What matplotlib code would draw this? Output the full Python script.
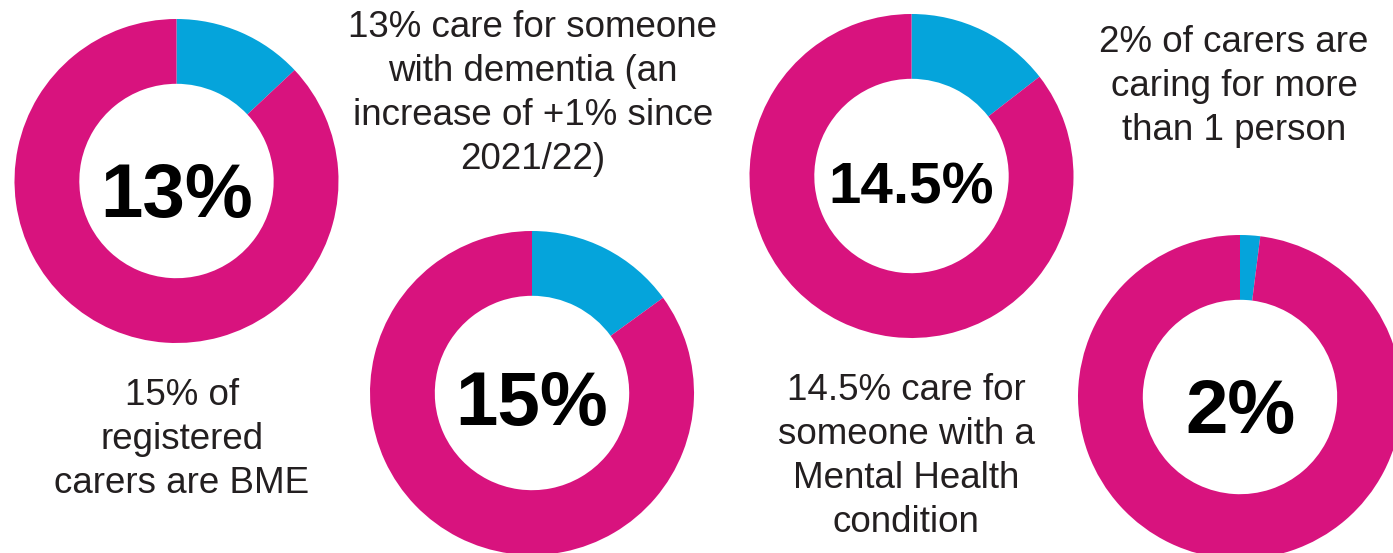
import matplotlib.pyplot as plt

# donut values (percent of carers)
values = [13, 15, 14.5, 2]
centre_labels = ['13%', '15%', '14.5%', '2%']
captions = [
    '15% of\nregistered\ncarers are BME',
    '13% care for someone\nwith dementia (an\nincrease of +1% since\n2021/22)',
    '14.5% care for\nsomeone with a\nMental Health\ncondition',
    '2% of carers are\ncaring for more\nthan 1 person',
]

# layout in pixel coords (y down)
donut_xy = [(176.5, 181), (532, 393), (911.5, 176), (1240, 397)]
donut_r = 162
centre_text_y = [217, 425, 203, 433]
centre_text_size = [55, 55, 42, 55]
caption_xy = [(182, 378), (533, 10), (906, 373), (1234, 25)]

pink = '#D8137E'
blue = '#05A4DB'

plt.rcParams['font.family'] = ['Liberation Sans', 'DejaVu Sans']

fig = plt.figure(figsize=(13.93, 5.53), dpi=100)
ax = fig.add_axes([0, 0, 1, 1])

for v, (cx, cy), lab, ty, fs in zip(values, donut_xy, centre_labels,
                                     centre_text_y, centre_text_size):
    # y axis is inverted, so start at -90 and go "counterclock" to look clockwise from 12 o'clock
    ax.pie([v, 100 - v], colors=[blue, pink], center=(cx, cy), radius=donut_r,
           startangle=-90, counterclock=True,
           wedgeprops=dict(width=donut_r * 0.4, linewidth=0))
    ax.text(cx, ty, lab, ha='center', va='baseline', fontsize=fs,
            fontweight='bold', color='black')

for txt, (x, y) in zip(captions, caption_xy):
    ax.text(x, y, txt, ha='center', va='top', fontsize=26.5, color='#231F20',
            linespacing=1.33)

ax.set_xlim(0, 1393)
ax.set_ylim(553, 0)
ax.set_aspect('equal')
ax.axis('off')

fig.savefig('out.png', dpi=100, facecolor='white')
